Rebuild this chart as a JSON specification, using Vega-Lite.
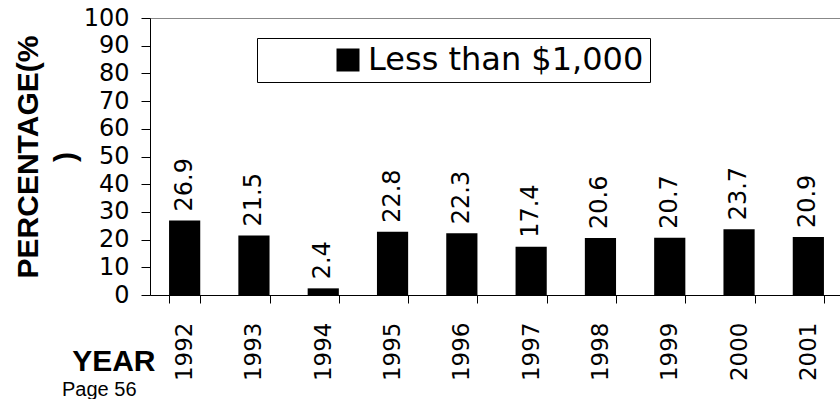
{
  "$schema": "https://vega.github.io/schema/vega-lite/v6.json",
  "width": 693,
  "height": 277,
  "autosize": {"type": "none"},
  "padding": {"left": 150, "top": 18, "right": -3, "bottom": 104},
  "background": "white",
  "config": {"view": {"stroke": "#888888", "strokeWidth": 1}},
  "title": {
    "text": "Page 56",
    "orient": "bottom",
    "anchor": "start",
    "frame": "group",
    "font": "Liberation Sans",
    "fontSize": 20,
    "fontWeight": "normal",
    "color": "black",
    "offset": 0,
    "dx": -88,
    "dy": -1
  },
  "data": {
    "values": [
      {"year": "1992", "value": 26.9, "series": "Less than $1,000"},
      {"year": "1993", "value": 21.5, "series": "Less than $1,000"},
      {"year": "1994", "value": 2.4, "series": "Less than $1,000"},
      {"year": "1995", "value": 22.8, "series": "Less than $1,000"},
      {"year": "1996", "value": 22.3, "series": "Less than $1,000"},
      {"year": "1997", "value": 17.4, "series": "Less than $1,000"},
      {"year": "1998", "value": 20.6, "series": "Less than $1,000"},
      {"year": "1999", "value": 20.7, "series": "Less than $1,000"},
      {"year": "2000", "value": 23.7, "series": "Less than $1,000"},
      {"year": "2001", "value": 20.9, "series": "Less than $1,000"}
    ]
  },
  "encoding": {
    "x": {
      "field": "year",
      "type": "nominal",
      "sort": null,
      "scale": {"paddingInner": 0.55, "paddingOuter": 0.275},
      "axis": {
        "title": "YEAR",
        "titleFont": "Liberation Sans",
        "titleFontSize": 30,
        "titleFontWeight": "bold",
        "titleColor": "black",
        "titleAlign": "right",
        "titleAngle": 0,
        "titleX": 5,
        "titleY": 75,
        "titleBaseline": "alphabetic",
        "labelAngle": 270,
        "labelFont": "DejaVu Sans",
        "labelFontSize": 23,
        "labelColor": "black",
        "labelPadding": 19,
        "tickSize": 8,
        "tickColor": "black",
        "domainColor": "black",
        "tickBand": "extent",
        "grid": false
      }
    },
    "y": {
      "field": "value",
      "type": "quantitative",
      "scale": {"domain": [0, 100], "nice": false},
      "axis": {
        "title": ["PERCENTAGE(%", ")"],
        "titleFont": "Liberation Sans",
        "titleFontSize": 30,
        "titleFontWeight": "bold",
        "titleColor": "black",
        "titleLineHeight": 37,
        "titleAngle": 270,
        "titleAlign": "center",
        "titleBaseline": "top",
        "titleX": -137,
        "titleY": 138.5,
        "values": [0, 10, 20, 30, 40, 50, 60, 70, 80, 90, 100],
        "labelFont": "DejaVu Sans",
        "labelFontSize": 24,
        "labelColor": "black",
        "labelPadding": 12,
        "tickSize": 9,
        "tickColor": "black",
        "domainColor": "black",
        "grid": false
      }
    }
  },
  "layer": [
    {
      "mark": {"type": "bar"},
      "encoding": {
        "color": {
          "field": "series",
          "type": "nominal",
          "scale": {"range": ["black"]},
          "legend": {
            "title": null,
            "orient": "none",
            "legendX": 107,
            "legendY": 20,
            "strokeColor": "black",
            "fillColor": "white",
            "padding": 6,
            "symbolType": "square",
            "symbolSize": 529,
            "symbolOffset": 69,
            "symbolStrokeWidth": 0,
            "labelOffset": 4,
            "labelFont": "DejaVu Sans",
            "labelFontSize": 32,
            "labelColor": "black",
            "labelLimit": 0,
            "encode": {"entries": {"update": {"width": {"value": 468}}}}
          }
        }
      }
    },
    {
      "mark": {
        "type": "text",
        "angle": 270,
        "align": "left",
        "baseline": "middle",
        "dx": 9,
        "font": "DejaVu Sans",
        "fontSize": 24,
        "color": "black"
      },
      "encoding": {
        "text": {"field": "value", "type": "quantitative", "format": ".1f"}
      }
    }
  ]
}
